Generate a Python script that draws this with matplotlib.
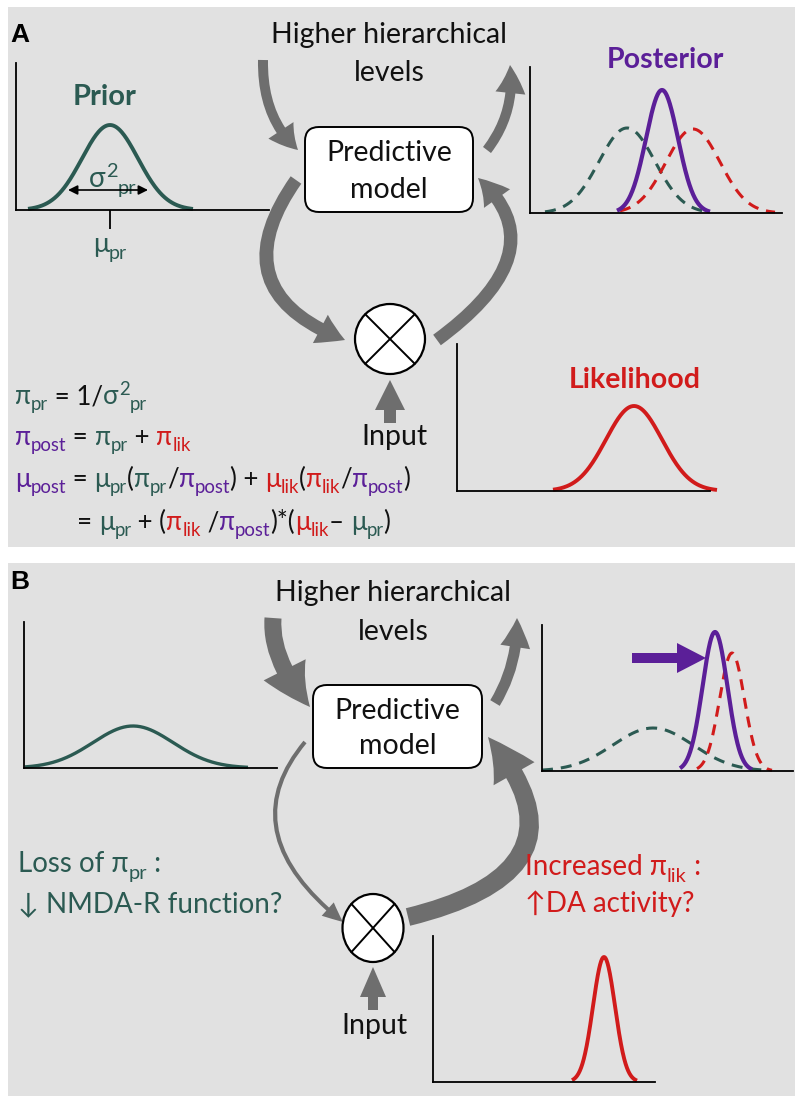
import numpy as np
import matplotlib.pyplot as plt
from matplotlib.patches import Rectangle, FancyBboxPatch, FancyArrowPatch, Ellipse
from matplotlib.path import Path
from matplotlib.font_manager import FontProperties

W, H = 795, 1096
FONT = ['Lato', 'DejaVu Sans']
COL = {'g': '#2b5a52', 'p': '#5b1f98', 'r': '#d11b1b', 'k': '#111111'}
GRAY = '#6e6e6e'
BG = '#e1e1e1'

# bell curves: mean, sd, peak, left end, right end (px inside each mini plot)
prior_a = [94, 28, 85, 12, 177]
post_a_prior = [97, 28, 85, 15, 177]
post_a_lik = [163, 27, 84, 90, 245]
post_a_post = [132, 16, 123, 87, 180]
lik_a = [177, 28, 85, 96, 260]
prior_b = [109, 40, 42, 1, 224]
post_b_prior = [111, 40, 43, 0, 225]
post_b_post = [173, 12.5, 139, 138, 210]
post_b_lik = [190, 12.5, 118, 155, 230]
lik_b = [171, 11, 125, 139, 204]

# text pieces: (text, colour key, '' normal / 'b' subscript / 'p' superscript)
sigma_label = [('σ', 'g', ''), ('2', 'g', 'p'), ('pr', 'g', 'b')]
mu_label = [('μ', 'g', ''), ('pr', 'g', 'b')]
formula1 = [('π', 'g', ''), ('pr', 'g', 'b'), (' = 1/', 'k', ''),
            ('σ', 'g', ''), ('2', 'g', 'p'), ('pr', 'g', 'b')]
formula2 = [('π', 'p', ''), ('post', 'p', 'b'), (' = ', 'k', ''),
            ('π', 'g', ''), ('pr', 'g', 'b'), (' + ', 'k', ''),
            ('π', 'r', ''), ('lik', 'r', 'b')]
formula3 = [('μ', 'p', ''), ('post', 'p', 'b'), (' = ', 'k', ''),
            ('μ', 'g', ''), ('pr', 'g', 'b'), ('(', 'k', ''),
            ('π', 'g', ''), ('pr', 'g', 'b'), ('/', 'k', ''),
            ('π', 'p', ''), ('post', 'p', 'b'), (') + ', 'k', ''),
            ('μ', 'r', ''), ('lik', 'r', 'b'), ('(', 'k', ''),
            ('π', 'r', ''), ('lik', 'r', 'b'), ('/', 'k', ''),
            ('π', 'p', ''), ('post', 'p', 'b'), (')', 'k', '')]
formula4 = [('= ', 'k', ''), ('μ', 'g', ''), ('pr', 'g', 'b'),
            (' + (', 'k', ''), ('π', 'r', ''), ('lik', 'r', 'b'),
            (' /', 'k', ''), ('π', 'p', ''), ('post', 'p', 'b'),
            (')*(', 'k', ''), ('μ', 'r', ''), ('lik', 'r', 'b'),
            ('– ', 'k', ''), ('μ', 'g', ''), ('pr', 'g', 'b'), (')', 'k', '')]
loss_label = [('Loss of π', 'g', ''), ('pr', 'g', 'b'), (' :', 'g', '')]
inc_label = [('Increased π', 'r', ''), ('lik', 'r', 'b'), (' :', 'r', '')]

fig = plt.figure(figsize=(W / 100, H / 100), dpi=100)
ax = fig.add_axes([0, 0, 1, 1])
ax.set_xlim(0, W)
ax.set_ylim(H, 0)
ax.axis('off')
rend = fig.canvas.get_renderer()

ax.add_patch(Rectangle((8, 7), W - 8, 540, fc=BG, ec='none', zorder=0))
ax.add_patch(Rectangle((8, 563), W - 8, H - 563, fc=BG, ec='none', zorder=0))


def adv(s, size):
    fp = FontProperties(family=FONT, size=size)
    w1 = rend.get_text_width_height_descent('x' + s + 'x', fp, False)[0]
    w0 = rend.get_text_width_height_descent('xx', fp, False)[0]
    return w1 - w0


def rich(x, y, parts, size):
    px = size * 100 / 72
    for s, c, k in parts:
        fs = size * 0.72 if k else size
        dy = {'': 0, 'b': 0.24 * px, 'p': -0.36 * px}[k]
        ax.text(x, y + dy, s, color=COL[c], fontsize=fs, family=FONT,
                va='baseline', ha='left', zorder=5)
        x += adv(s, fs)


def label(x, y, s, size=20.5, color='k', weight='normal'):
    ax.text(x, y, s, fontsize=size, color=COL.get(color, color),
            family=FONT, weight=weight, ha='center', va='center', zorder=5)


def mini(x0, base, x1, top):
    a = fig.add_axes([x0 / W, 1 - base / H, (x1 - x0) / W, (base - top) / H])
    a.set_xlim(0, x1 - x0)
    a.set_ylim(0, base - top)
    a.patch.set_visible(False)
    a.spines[['top', 'right']].set_visible(False)
    a.spines[['left', 'bottom']].set_linewidth(1.3)
    a.set_xticks([])
    a.set_yticks([])
    return a


def bell(a, p, color, dashed=False, lw=2.6):
    m, sd, h, lo, hi = p
    x = np.linspace(lo, hi, 200)
    ls = (0, (3.6, 2.6)) if dashed else '-'
    a.plot(x, h * np.exp(-0.5 * ((x - m) / sd) ** 2), color=COL[color],
           ls=ls, lw=lw, clip_on=False, solid_capstyle='butt')


def curved(p0, c, p1, tail, hw, hl, color=GRAY):
    path = Path([p0, c, p1], [Path.MOVETO, Path.CURVE3, Path.CURVE3])
    style = "simple,head_length=%g,head_width=%g,tail_width=%g" % (
        hl * 0.72, hw * 0.72, tail * 0.72)
    ax.add_patch(FancyArrowPatch(path=path, arrowstyle=style, fc=color,
                                 ec='none', lw=0, mutation_scale=1, zorder=2))


def straight(p0, p1, tail, hw, hl, color=GRAY):
    style = "simple,head_length=%g,head_width=%g,tail_width=%g" % (
        hl * 0.72, hw * 0.72, tail * 0.72)
    ax.add_patch(FancyArrowPatch(p0, p1, arrowstyle=style, fc=color,
                                 ec='none', lw=0, mutation_scale=1,
                                 shrinkA=0, shrinkB=0, zorder=2))


def model_box(x, y, w, h):
    ax.add_patch(FancyBboxPatch((x, y), w, h,
                                boxstyle='round,pad=0,rounding_size=14',
                                fc='white', ec='black', lw=1.4, zorder=4))
    label(x + w / 2, y + h * 0.31, 'Predictive')
    label(x + w / 2, y + h * 0.74, 'model')


def multiplier(cx, cy, w, h):
    ax.add_patch(Ellipse((cx, cy), w, h, fc='white', ec='black', lw=1.6,
                         zorder=4))
    dx, dy = w / 2 * 0.707, h / 2 * 0.707
    ax.plot([cx - dx, cx + dx], [cy - dy, cy + dy], color='black', lw=1.4,
            zorder=5)
    ax.plot([cx - dx, cx + dx], [cy + dy, cy - dy], color='black', lw=1.4,
            zorder=5)


# ---------------- panel A ----------------
ax.text(10, 35, 'A', fontsize=19, weight='bold', family='Liberation Sans',
        ha='left', va='center')
label(389, 35, 'Higher hierarchical')
label(389, 73, 'levels')
model_box(305, 127, 168, 85)
multiplier(390, 339, 70, 70)

curved((263, 60), (262, 118), (298, 150), 10, 30, 26)
curved((487, 150), (516, 112), (510, 65), 10, 30, 28)
curved((296, 180), (218, 291), (345, 340), 13, 32, 27)
curved((437, 340), (560, 250), (478, 178), 13, 32, 28)
straight((390, 423), (390, 380), 12, 30, 30)
label(394, 437, 'Input')

a1 = mini(16, 210, 269, 63)
bell(a1, prior_a, 'g', lw=2.8)
a1.set_xticks([prior_a[0]])
a1.set_xticklabels([])
a1.tick_params(axis='x', length=14, width=1.3, direction='out')
a1.annotate('', xy=(52, 20), xytext=(132, 20),
            arrowprops=dict(arrowstyle='<|-|>', color='black', lw=1.2,
                            mutation_scale=14, shrinkA=0, shrinkB=0))
label(105, 97, 'Prior', size=21, color='g', weight='bold')
rich(89, 187, sigma_label, 20)
rich(93, 252, mu_label, 19.5)

a2 = mini(530, 213, 782, 67)
bell(a2, post_a_prior, 'g', dashed=True, lw=2.2)
bell(a2, post_a_lik, 'r', dashed=True, lw=2.2)
bell(a2, post_a_post, 'p', lw=3.0)
label(665, 60, 'Posterior', color='p', weight='bold')

a3 = mini(457, 491, 710, 344)
bell(a3, lik_a, 'r', lw=2.8)
label(635, 380, 'Likelihood', color='r', weight='bold')

rich(15, 404, formula1, 18.6)
rich(15, 445, formula2, 18.6)
rich(15, 487, formula3, 18.6)
rich(77, 530, formula4, 18.6)

# ---------------- panel B ----------------
ax.text(10, 582, 'B', fontsize=19, weight='bold', family='Liberation Sans',
        ha='left', va='center')
label(393, 593, 'Higher hierarchical')
label(393, 632, 'levels')
model_box(313, 685, 169, 83)
multiplier(373, 928, 61, 68)

curved((273, 618), (270, 660), (310, 707), 17, 47, 45)
curved((495, 703), (518, 665), (517, 618), 11, 30, 29)
curved((305, 742), (230, 832), (343, 922), 4, 18, 20)
curved((408, 917), (600, 870), (488, 737), 18, 47, 45)
straight((373, 1010), (373, 967), 10, 26, 30)
label(374, 1026, 'Input')

b1 = mini(24, 768, 277, 622)
bell(b1, prior_b, 'g', lw=2.4)

b2 = mini(542, 771, 793, 625)
bell(b2, post_b_prior, 'g', dashed=True, lw=2.2)
bell(b2, post_b_lik, 'r', dashed=True, lw=2.2)
bell(b2, post_b_post, 'p', lw=3.0)
straight((632, 658), (706, 658), 10, 30, 29, color=COL['p'])

b3 = mini(433, 1082, 655, 936)
bell(b3, lik_b, 'r', lw=2.8)

rich(18, 872, loss_label, 20)
ax.text(18, 912, '↓ NMDA-R function?', fontsize=20, color=COL['g'],
        family=FONT, ha='left', va='baseline')
rich(525, 875, inc_label, 20)
ax.text(525, 912, '↑DA activity?', fontsize=20, color=COL['r'],
        family=FONT, ha='left', va='baseline')

fig.savefig('out.png', dpi=100)
